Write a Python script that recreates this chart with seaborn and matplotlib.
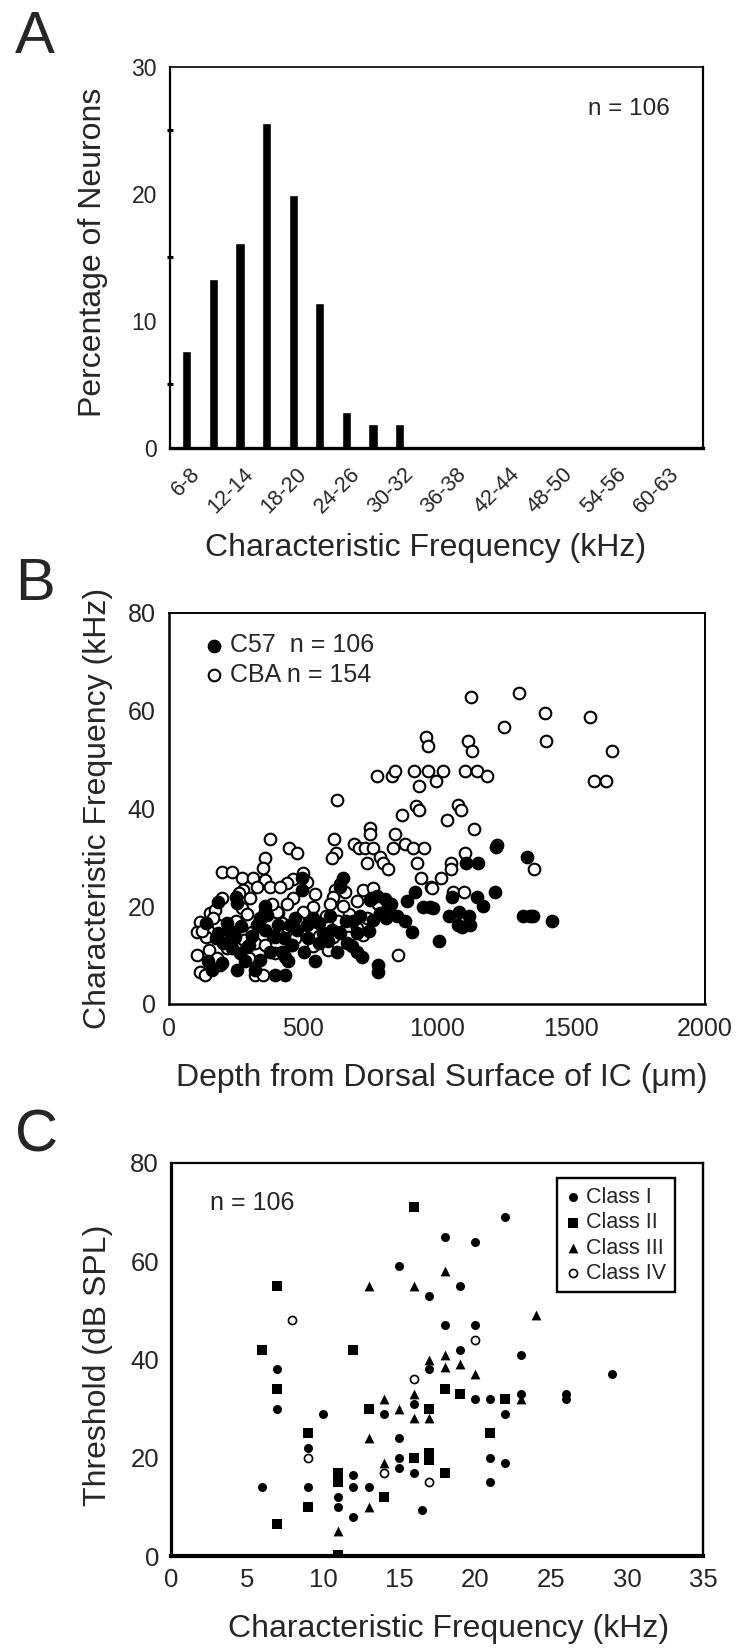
import numpy as np
import matplotlib
matplotlib.use('Agg')
import matplotlib.pyplot as plt
import seaborn as sns

# ---- Panel A: CF histogram (percentage of C57 neurons) ----
bins = ['6-8', '9-11', '12-14', '15-17', '18-20', '21-23', '24-26', '27-29', '30-32', '33-35',
        '36-38', '39-41', '42-44', '45-47', '48-50', '51-53', '54-56', '57-59', '60-63']
pct = [7.6, 13.3, 16.1, 25.6, 19.9, 11.4, 2.8, 1.9, 1.9, 0, 0, 0, 0, 0, 0, 0, 0, 0, 0]

# ---- Panel B: CF vs depth ----
c57_depth = [1220, 1335, 1108, 1154, 1216, 1055, 1148, 1173, 984, 1045, 1083, 1121, 1123, 1080,
             1322, 1347, 1360, 1428, 1009, 650, 638, 495, 495, 918, 887, 949, 974, 756, 775, 787,
             818, 850, 881, 905, 781, 781, 545, 184, 250, 255, 358, 364, 140, 184, 215, 228, 246,
             290, 265, 284, 147, 159, 196, 252, 321, 339, 333, 358, 408, 452, 476, 514, 539, 551,
             576, 595, 626, 663, 682, 700, 719, 377, 420, 433, 445, 396, 433, 504, 688, 713, 750,
             762, 1092, 607, 235, 310, 390, 430, 470, 520, 560, 600, 640, 660, 200, 175, 270, 300,
             805, 830, 810, 340, 460, 560, 700, 745]
c57_cf = [32.1, 30.0, 28.8, 28.8, 22.9, 21.8, 21.8, 20.0, 19.7, 17.9, 18.9, 17.9, 16.2, 16.2,
          17.9, 17.9, 17.9, 16.9, 12.9, 25.7, 23.9, 25.7, 23.3, 23.0, 21.0, 19.9, 19.9, 21.6, 22.0, 18.6,
          19.9, 17.9, 16.9, 14.8, 8.0, 6.6, 8.7, 20.9, 21.8, 20.6, 20.1, 18.2, 16.5, 14.5, 16.5, 14.8, 13.8,
          11.7, 10.4, 8.7, 8.7, 7.0, 8.3, 7.0, 7.0, 17.5, 16.2, 15.1, 16.2, 16.2, 15.1, 16.2, 17.5, 16.8,
          14.5, 12.8, 10.7, 12.4, 11.8, 10.7, 9.7, 10.7, 10.7, 9.7, 8.7, 5.9, 5.9, 10.7, 16.9, 17.9, 21.3,
          17.2, 15.8, 15.2, 11.5, 14.0, 14.0, 13.5, 17.5, 13.5, 16.5, 18.0, 14.5, 17.0, 12.5, 13.5, 16.0, 12.0,
          21.5, 20.5, 17.5, 9.0, 12.0, 12.5, 14.5, 15.0]

cba_depth = [1127, 1307, 1403, 1250, 1571, 1405, 1652, 1586, 1631, 1117, 1129, 959, 965, 775, 831,
             843, 914, 934, 965, 996, 1021, 1105, 1148, 1185, 626, 922, 934, 868, 1080, 1090, 1039,
             1139, 750, 750, 843, 377, 616, 449, 479, 690, 710, 731, 760, 837, 880, 912, 952, 623,
             607, 1105, 1223, 358, 787, 800, 818, 738, 924, 1051, 1051, 349, 1362, 196, 234, 271,
             315, 358, 499, 514, 464, 439, 640, 939, 1014, 976, 277, 377, 414, 619, 657, 611, 302,
             464, 725, 762, 1061, 1101, 196, 271, 539, 408, 507, 116, 103, 138, 184, 308, 327, 396,
             439, 495, 632, 669, 613, 725, 103, 116, 134, 190, 321, 352, 856, 215, 153, 172, 165,
             228, 321, 402, 501, 538, 560, 250, 280, 345, 360, 420, 470, 520, 585, 700, 230, 150,
             300, 455, 595, 385, 262, 330, 545, 700, 780, 670, 360, 210, 125, 480, 600, 980, 740,
             650, 440, 290, 180, 395]
cba_cf = [62.8, 63.7, 59.6, 56.6, 58.8, 53.8, 51.8, 45.7, 45.7, 53.7, 51.8, 54.7, 52.7, 46.7, 46.7,
          47.6, 47.6, 44.5, 47.6, 45.7, 47.6, 47.6, 47.6, 46.7, 41.8, 40.4, 39.6, 38.7, 40.7, 39.6, 37.7,
          35.8, 36.0, 34.8, 34.8, 33.7, 33.7, 31.9, 30.8, 32.7, 31.9, 31.9, 31.9, 31.9, 32.7, 31.9, 31.9, 30.8,
          29.8, 30.9, 32.6, 29.8, 30.0, 28.8, 27.6, 28.8, 28.8, 28.8, 27.6, 27.8, 27.6, 26.9, 26.9, 25.7,
          25.7, 25.4, 26.7, 25.0, 25.5, 24.8, 24.5, 25.7, 25.7, 23.9, 23.3, 23.9, 23.9, 23.3, 23.0, 21.8, 21.6,
          21.6, 23.3, 23.7, 23.0, 23.0, 21.6, 19.6, 19.9, 18.6, 18.2, 16.8, 14.8, 13.8, 16.2, 14.8, 16.2, 13.8,
          15.8, 15.1, 16.9, 13.8, 13.8, 14.1, 10.0, 6.6, 5.9, 8.0, 5.9, 5.9, 10.0, 11.4, 18.6, 19.3, 17.5,
          15.5, 12.5, 18.9, 18.9, 11.8, 14.0, 17.0, 13.0, 17.5, 12.0, 16.5, 13.5, 16.5, 18.0, 15.5, 12.5, 11.0,
          9.5, 12.0, 11.0, 20.5, 22.8, 24.0, 22.5, 21.0, 20.5, 18.5, 19.0, 14.0, 15.0, 17.0, 20.5, 23.7, 17.5,
          20.0, 20.5, 18.5, 9.5, 10.5]

# ---- Panel C: threshold vs CF by response class ----
cls1_cf = [6, 7, 7, 9, 9, 10, 11, 11, 12, 12, 12, 13, 14, 15, 15, 15, 15, 16, 16, 17, 17, 16.5,
           18, 18, 20, 19, 22, 20, 19, 23, 29, 20, 21, 22, 23, 26, 26, 21, 22, 21]
cls1_thr = [14, 38, 30, 22, 14, 29, 12, 10, 16.5, 14, 8, 14, 29, 59, 24, 20, 18, 31, 17, 53, 38, 9.4,
            65, 47, 64, 55, 69, 47, 42, 41, 37, 32, 32, 29, 33, 33, 32, 20, 19, 15]
cls2_cf = [7, 7, 7, 6, 9, 9, 11, 11, 11, 12, 13, 14, 16, 16, 17, 17, 17, 18, 18, 19, 22, 21]
cls2_thr = [55, 34, 6.5, 42, 25, 10, 17, 15, 0.2, 42, 30, 12, 71, 20, 30, 21, 19.5, 34, 17, 33, 32, 25]
cls3_cf = [13, 13, 13, 11, 14, 14, 15, 16, 16, 16, 17, 17, 18, 18, 18, 24, 19, 20, 23]
cls3_thr = [55, 24, 10, 5, 32, 19, 30, 55, 33, 28, 40, 28, 58, 41, 38.5, 49, 39, 37, 32]
cls4_cf = [8, 9, 14, 16, 17, 20]
cls4_thr = [48, 20, 17, 36, 15, 44]

sns.set_theme(style='white')
plt.rcParams['font.family'] = ['Liberation Sans', 'DejaVu Sans']
plt.rcParams['axes.edgecolor'] = 'black'

fig = plt.figure(figsize=(7.51, 16.48), dpi=100)
LABEL_FS = 23


def style_spines(ax, lw):
    for side, w in zip(['left', 'bottom', 'top', 'right'], lw):
        ax.spines[side].set_visible(True)
        ax.spines[side].set_color('black')
        ax.spines[side].set_linewidth(w)


# Panel A
axA = fig.add_axes([0.2264, 0.7282, 0.7097, 0.2312])
sns.barplot(x=bins, y=pct, color='black', width=0.35, saturation=1, ax=axA)
axA.set_xlim(-0.63, 19.4)
axA.set_ylim(0, 30)
tick_pos = np.arange(-1, 20) + 0.39
tick_lab = [bins[i] if (0 <= i < len(bins) and i % 2 == 0) else '' for i in range(-1, 20)]
axA.set_xticks(tick_pos)
axA.set_xticklabels(tick_lab, rotation=45, ha='right', va='center', rotation_mode='anchor')
axA.set_yticks([0, 10, 20, 30])
axA.set_yticks([5, 15, 25], minor=True)
axA.tick_params(axis='x', direction='inout', length=5, width=2.2, color='black', labelsize=15.5, pad=14)
axA.tick_params(axis='y', which='both', direction='inout', length=5, width=2.2, color='black',
                labelsize=16.5, pad=7)
axA.tick_params(axis='y', which='minor', left=True)
style_spines(axA, [1.6, 2.4, 1.2, 1.6])
axA.set_xlabel('Characteristic Frequency (kHz)', fontsize=LABEL_FS)
axA.set_ylabel('Percentage of Neurons', fontsize=LABEL_FS)
axA.xaxis.set_label_coords(0.48, -0.223)
axA.yaxis.set_label_coords(-0.116, 0.512)
axA.text(0.938, 0.874, 'n = 106', transform=axA.transAxes, ha='right', va='baseline', fontsize=17.5)

# Panel B
axB = fig.add_axes([0.2250, 0.3908, 0.7137, 0.2373])
sns.scatterplot(x=cba_depth, y=cba_cf, marker='o', s=70, color='white', edgecolor='black',
                linewidth=1.5, ax=axB, label='CBA n = 154', zorder=2)
sns.scatterplot(x=c57_depth, y=c57_cf, marker='o', s=70, color='black', edgecolor='black',
                linewidth=1.5, ax=axB, label='C57  n = 106', zorder=3)
axB.set_xlim(0, 2000)
axB.set_ylim(0, 80)
axB.set_xticks([0, 500, 1000, 1500, 2000])
axB.set_yticks([0, 20, 40, 60, 80])
axB.tick_params(direction='inout', length=5, width=2.2, color='black', labelsize=18, pad=7)
style_spines(axB, [1.8, 1.8, 1.4, 1.4])
axB.set_xlabel('Depth from Dorsal Surface of IC (\u03bcm)', fontsize=LABEL_FS)
axB.set_ylabel('Characteristic Frequency (kHz)', fontsize=LABEL_FS)
axB.xaxis.set_label_coords(0.509, -0.151)
axB.yaxis.set_label_coords(-0.105, 0.5)
h, l = axB.get_legend_handles_labels()
axB.legend(h[::-1], l[::-1], loc='upper left', bbox_to_anchor=(0.066, 0.948), frameon=False,
           fontsize=18, borderpad=0, borderaxespad=0, handlelength=0.8, handletextpad=0.24,
           labelspacing=0.22)

# Panel C
axC = fig.add_axes([0.2273, 0.0558, 0.7092, 0.2385])
sns.scatterplot(x=cls1_cf, y=cls1_thr, marker='o', s=42, color='black', linewidth=0, ax=axC,
                label='Class I')
sns.scatterplot(x=cls2_cf, y=cls2_thr, marker='s', s=50, color='black', linewidth=0, ax=axC,
                label='Class II')
sns.scatterplot(x=cls3_cf, y=cls3_thr, marker='^', s=50, color='black', linewidth=0, ax=axC,
                label='Class III')
sns.scatterplot(x=cls4_cf, y=cls4_thr, marker='o', s=34, color='white', edgecolor='black',
                linewidth=1.2, ax=axC, label='Class IV')
axC.set_xlim(0, 35)
axC.set_ylim(0, 80)
axC.set_xticks(np.arange(0, 36, 5))
axC.set_yticks([0, 20, 40, 60, 80])
axC.tick_params(direction='inout', length=5, width=2.2, color='black', labelsize=18.5, pad=6)
style_spines(axC, [2.3, 3.0, 1.6, 1.7])
axC.set_xlabel('Characteristic Frequency (kHz)', fontsize=LABEL_FS)
axC.set_ylabel('Threshold (dB SPL)', fontsize=LABEL_FS)
axC.xaxis.set_label_coords(0.521, -0.148)
axC.yaxis.set_label_coords(-0.108, 0.486)
axC.text(0.074, 0.880, 'n = 106', transform=axC.transAxes, ha='left', va='baseline', fontsize=18)
legC = axC.legend(loc='upper right', bbox_to_anchor=(0.947, 0.961), frameon=True, fancybox=False,
                  edgecolor='black', framealpha=1, fontsize=15.5, borderaxespad=0, borderpad=0.4,
                  handlelength=0.67, handletextpad=0.29, labelspacing=0.2)
legC.get_frame().set_linewidth(1.7)

# panel letters
for letter, ybase in [('A', 53), ('B', 600), ('C', 1151)]:
    fig.text(15 / 751, 1 - ybase / 1648, letter, fontsize=43, ha='left', va='baseline')

fig.savefig('out.png', dpi=100, facecolor='white')
